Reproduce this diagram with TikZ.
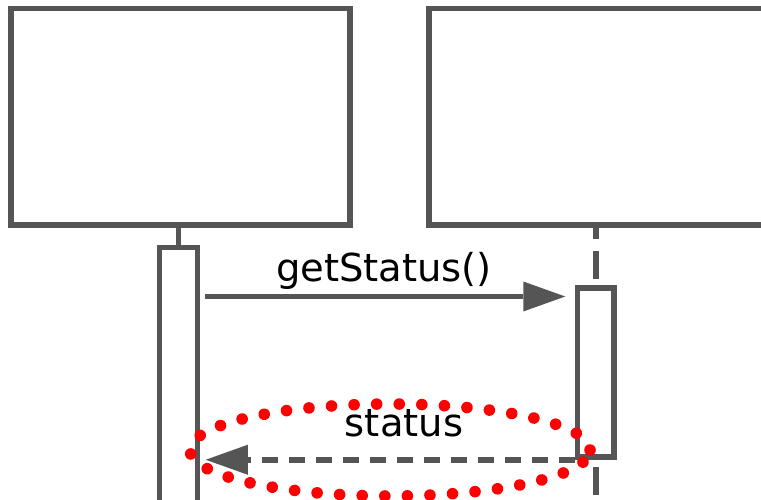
\documentclass[tikz,border=0pt]{standalone}
\usepackage{fontspec}
\setmainfont{DejaVu Sans}
\usetikzlibrary{arrows.meta,calc,decorations.markings}
\definecolor{umlgray}{HTML}{555555}
\definecolor{markred}{HTML}{FF0000}
\begin{document}
\begin{tikzpicture}[x=1pt,y=-1pt,
  objbox/.style={draw=umlgray, line width=5.5pt, fill=white, rectangle, inner sep=0pt,
                 minimum width=339pt, minimum height=216.5pt},
  actbox/.style={draw=umlgray, line width=5.5pt, fill=white, rectangle, inner sep=0pt},
  lifeline/.style={draw=umlgray, line width=5.5pt},
  msgarrow/.style={draw=umlgray, line width=5.5pt,
                   -{Triangle[length=42pt,width=30pt,line width=0pt]}},
  retarrow/.style={msgarrow, dash pattern=on 16pt off 11pt},
  lbl/.style={font=\fontsize{38.5}{40}\selectfont, inner sep=0pt, anchor=base, text=black},
  highlight/.style={decoration={markings,
      mark=between positions 0 and 0.99 step 22.6pt with {\fill[markred] (0pt,0pt) circle [radius=5.8pt];}},
      postaction={decorate}}
]
\useasboundingbox (0,0) rectangle (761,500);
\fill[white] (0,0) rectangle (761,500);

% objects
\node[objbox] (objA) at (180.5,116.75) {};
\node[objbox] (objB) at (598.25,116.75) {};

% activations
\node[actbox, minimum width=38pt, minimum height=312.5pt] (actA) at (178.5,403.75) {};
\node[actbox, minimum width=36.5pt, minimum height=169pt] (actB) at (595.75,372.5) {};

% lifelines
\draw[lifeline] (actA.north) -- (actA.north |- objA.south);
\draw[lifeline, dash pattern=on 28pt off 12pt, dash phase=17pt] (actB.north |- objB.south) -- (actB.north);
\coordinate (endB) at (595.75,540);
\draw[lifeline, dash pattern=on 28pt off 12pt, dash phase=33pt] (actB.south) -- (endB);

% messages
\coordinate (callStart) at ($(actA.east |- 0,296.5)+(4.5,0)$);
\coordinate (callEnd) at ($(actB.west |- 0,296.5)+(-9.5,0)$);
\draw[msgarrow] (callStart) -- (callEnd);
\node[lbl] (callLbl) at (384,281) {getStatus()};

\coordinate (retEnd) at ($(actA.east |- actB.south west)+(5.5,0)$);
\draw[retarrow] (actB.south west) -- (retEnd);
\node[lbl] (retLbl) at (404,436.5) {status};

% highlight
\path[highlight] (390,450) ellipse [x radius=200pt, y radius=46pt];
\end{tikzpicture}
\end{document}
